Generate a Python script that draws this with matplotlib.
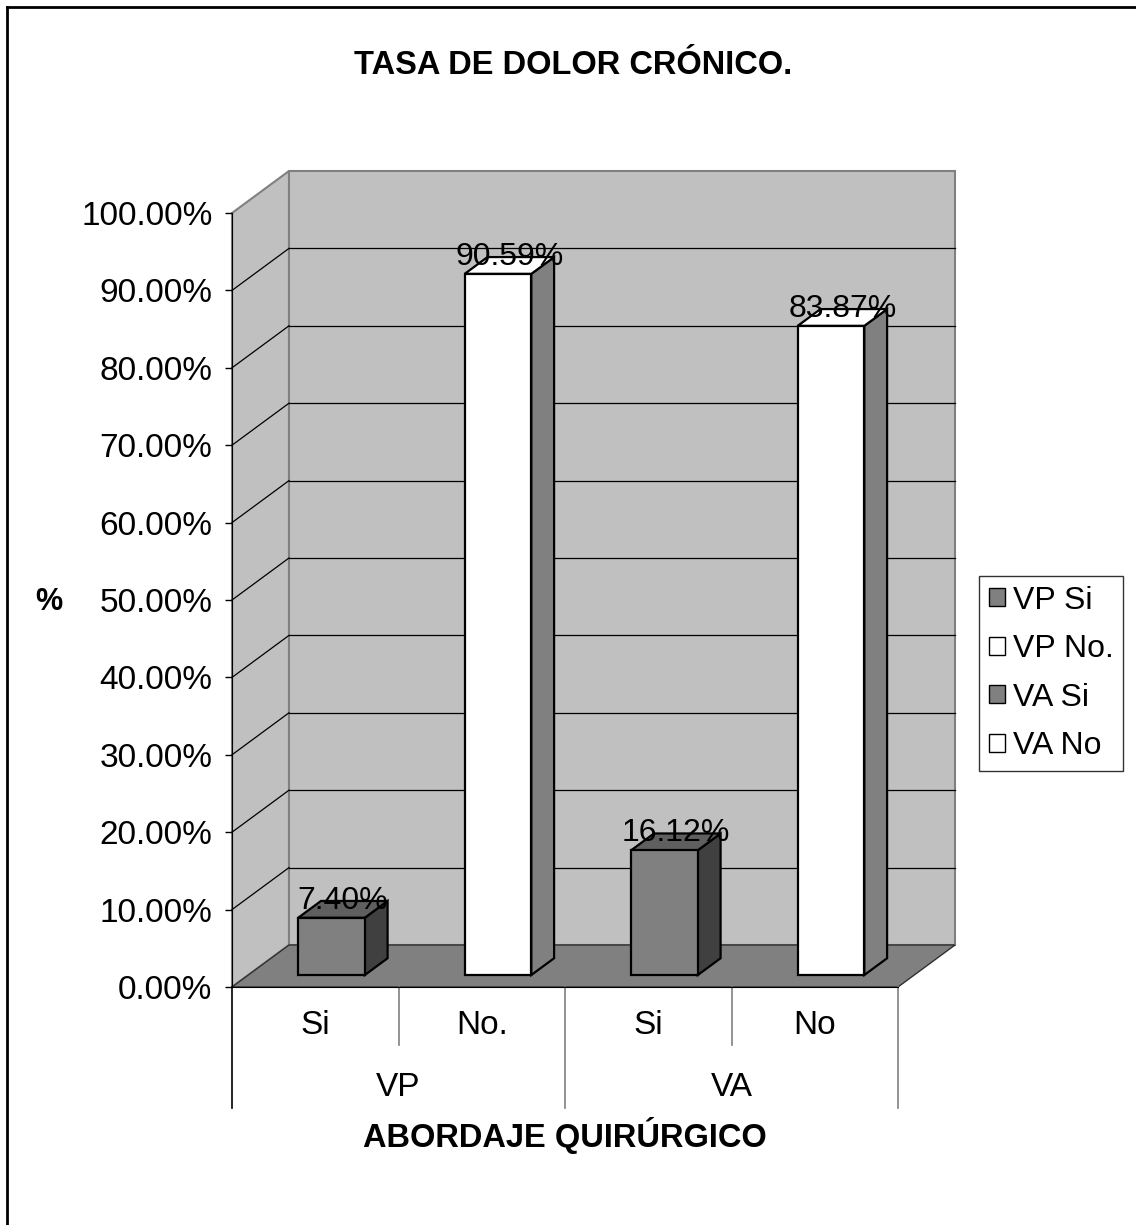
"""
Tasa de dolor crónico por abordaje quirúrgico: barras en pseudo-3D
al estilo de una hoja de cálculo.
"""

import matplotlib
matplotlib.use("Agg")
import matplotlib.pyplot as plt
from matplotlib.patches import Polygon, Patch
from matplotlib.lines import Line2D

plt.rcParams["font.family"] = ["Liberation Sans", "DejaVu Sans"]

GROUPS = ["VP", "VA"]
CATEGORIES = ["Si", "No.", "Si", "No"]
SERIES = ["VP Si", "VP No.", "VA Si", "VA No"]
VALUES = [7.40, 90.59, 16.12, 83.87]
LABELS = ["7.40%", "90.59%", "16.12%", "83.87%"]
YTICKS = [0, 10, 20, 30, 40, 50, 60, 70, 80, 90, 100]

# front / top / side shades for each bar
FACE = ["#808080", "#ffffff", "#808080", "#ffffff"]
TOP = ["#5f5f5f", "#ffffff", "#5f5f5f", "#ffffff"]
SIDE = ["#404040", "#808080", "#404040", "#808080"]

W, H = 1136, 1225
DX, DY = 57 / 166.5, 42 / 7.74        # depth offset of the back wall (data units)
BAR_W = 0.4
D0, D1 = 0.285, 0.685                 # bar depth range, fraction of full depth

fig = plt.figure(figsize=(W / 100, H / 100), dpi=100)
ax = fig.add_axes([232 / W, (H - 987) / H, 666 / W, 774 / H])
ax.set_xlim(0, len(CATEGORIES))
ax.set_ylim(0, 100)
ax.patch.set_visible(False)

n = len(CATEGORIES)
top = YTICKS[-1]

# side wall, back wall and floor
ax.add_patch(Polygon([(0, 0), (0, top), (DX, top + DY), (DX, DY)], closed=True,
                     fc="#c0c0c0", ec="#808080", lw=1.5, clip_on=False, zorder=1))
ax.add_patch(Polygon([(DX, DY), (DX, top + DY), (n + DX, top + DY), (n + DX, DY)],
                     closed=True, fc="#c0c0c0", ec="#808080", lw=1.5, clip_on=False,
                     zorder=1))
ax.add_patch(Polygon([(0, 0), (n, 0), (n + DX, DY), (DX, DY)], closed=True,
                     fc="#808080", ec="#303030", lw=1, clip_on=False, zorder=2))

for v in YTICKS[1:-1]:
    ax.add_line(Line2D([0, DX], [v, v + DY], color="black", lw=0.9,
                       clip_on=False, zorder=1.5))
    ax.add_line(Line2D([DX, n + DX], [v + DY, v + DY], color="black", lw=0.9,
                       clip_on=False, zorder=1.5))

# bars
for i, v in enumerate(VALUES):
    x0 = i + 0.5 - BAR_W / 2 + D0 * DX
    x1 = x0 + BAR_W
    y0 = D0 * DY
    ddx, ddy = (D1 - D0) * DX, (D1 - D0) * DY
    kw = dict(closed=True, ec="black", lw=1.6, clip_on=False, zorder=3)
    ax.add_patch(Polygon([(x1, y0), (x1 + ddx, y0 + ddy), (x1 + ddx, y0 + v + ddy),
                          (x1, y0 + v)], fc=SIDE[i], **kw))
    ax.add_patch(Polygon([(x0, y0 + v), (x1, y0 + v), (x1 + ddx, y0 + v + ddy),
                          (x0 + ddx, y0 + v + ddy)], fc=TOP[i], **kw))
    ax.add_patch(Polygon([(x0, y0), (x1, y0), (x1, y0 + v), (x0, y0 + v)],
                         fc=FACE[i], **kw))
    ax.text(i + 0.5 + (D0 + 0.2) * DX, v + D1 * DY, LABELS[i], ha="center",
            va="center", fontsize=23, zorder=4)

# y axis
ax.set_yticks(YTICKS)
ax.set_yticklabels([f"{v:.2f}%" for v in YTICKS], fontsize=24)
ax.tick_params(axis="y", direction="out", length=5, width=1, pad=9)
ax.set_xticks([])
for s in ["top", "right"]:
    ax.spines[s].set_visible(False)
ax.spines["left"].set_zorder(5)
ax.spines["bottom"].set_zorder(5)

# two-level category axis
px = 7.74
y_cat, y_grp, y_low, y_mid = (987 - 1026) / px, (987 - 1087) / px, (987 - 1108) / px, (987 - 1045) / px
for i, c in enumerate(CATEGORIES):
    ax.text(i + 0.5, y_cat, c, ha="center", va="center", fontsize=24)
for g, name in enumerate(GROUPS):
    ax.text(2 * g + 1, y_grp, name, ha="center", va="center", fontsize=24)
for k in range(n + 1):
    yb = y_low if k % 2 == 0 else y_mid
    ax.add_line(Line2D([k, k], [0, yb], color="black" if k == 0 else "#808080",
                       lw=1.2, clip_on=False))

ax.text(n / 2, (987 - 1136) / px, "ABORDAJE QUIRÚRGICO", ha="center",
        va="center", fontsize=23.5, fontweight="bold")
ax.text((49 - 232) / 166.5, (987 - 602) / px, "%", ha="center", va="center",
        fontsize=22, fontweight="bold")

fig.text(573 / W, 1 - 65 / H, "TASA DE DOLOR CRÓNICO.", ha="center", va="center",
         fontsize=23.5, fontweight="bold")

handles = [Patch(fc=FACE[i], ec="black", lw=1) for i in range(len(SERIES))]
leg = fig.legend(handles, SERIES, loc="upper left",
                 bbox_to_anchor=(979 / W, 1 - 576 / H), borderaxespad=0,
                 fontsize=23, frameon=True, fancybox=False, edgecolor="black",
                 handlelength=0.5, handleheight=0.5, handletextpad=0.25,
                 labelspacing=0.58, borderpad=0.3)
leg.get_frame().set_linewidth(1)

# chart area border (top and left edges)
fig.add_artist(Line2D([7 / W, 1], [1 - 7 / H, 1 - 7 / H], color="black", lw=2))
fig.add_artist(Line2D([7 / W, 7 / W], [0, 1 - 7 / H], color="black", lw=2))

fig.savefig("out.png", dpi=100)
